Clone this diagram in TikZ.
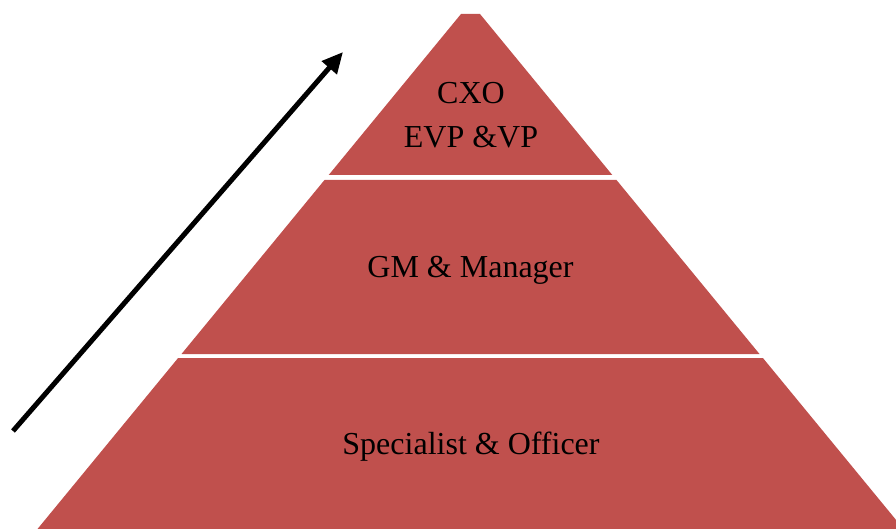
\documentclass[tikz,border=0pt]{standalone}
\usepackage{fontspec}
\setmainfont{Liberation Serif}
\usetikzlibrary{arrows.meta}
\definecolor{pyrred}{RGB}{192,80,77}
\begin{document}
\begin{tikzpicture}[x=1pt,y=-1pt,
  band/.style={fill=pyrred,draw=none},
  lbl/.style={anchor=base,inner sep=0pt,font=\fontsize{32}{38}\selectfont,text=black},
  growth/.style={line width=5pt,-{Triangle[length=21pt,width=19pt]}}]
\useasboundingbox (0,0) rectangle (896,529);
\clip (0,0) rectangle (896,529);
% pyramid bands
\fill[band] (461,14) -- (480,14) -- (612.3,175) -- (328.7,175) -- cycle;
\fill[band] (324.5,180) -- (616.5,180) -- (759.5,354) -- (181.5,354) -- cycle;
\fill[band] (178.1,358) -- (762.9,358) -- (903.5,529) -- (37.5,529) -- cycle;
% labels
\node[lbl] (cxo) at (471,104) {CXO};
\node[lbl] (evp) at (471,148) {EVP \&VP};
\node[lbl] (gm) at (470.5,277) {GM \& Manager};
\node[lbl] (spec) at (471,454) {Specialist \& Officer};
% arrow
\coordinate (tail) at (13,431);
\coordinate (tip) at (343,52);
\draw[growth] (tail) -- (tip);
\end{tikzpicture}
\end{document}
